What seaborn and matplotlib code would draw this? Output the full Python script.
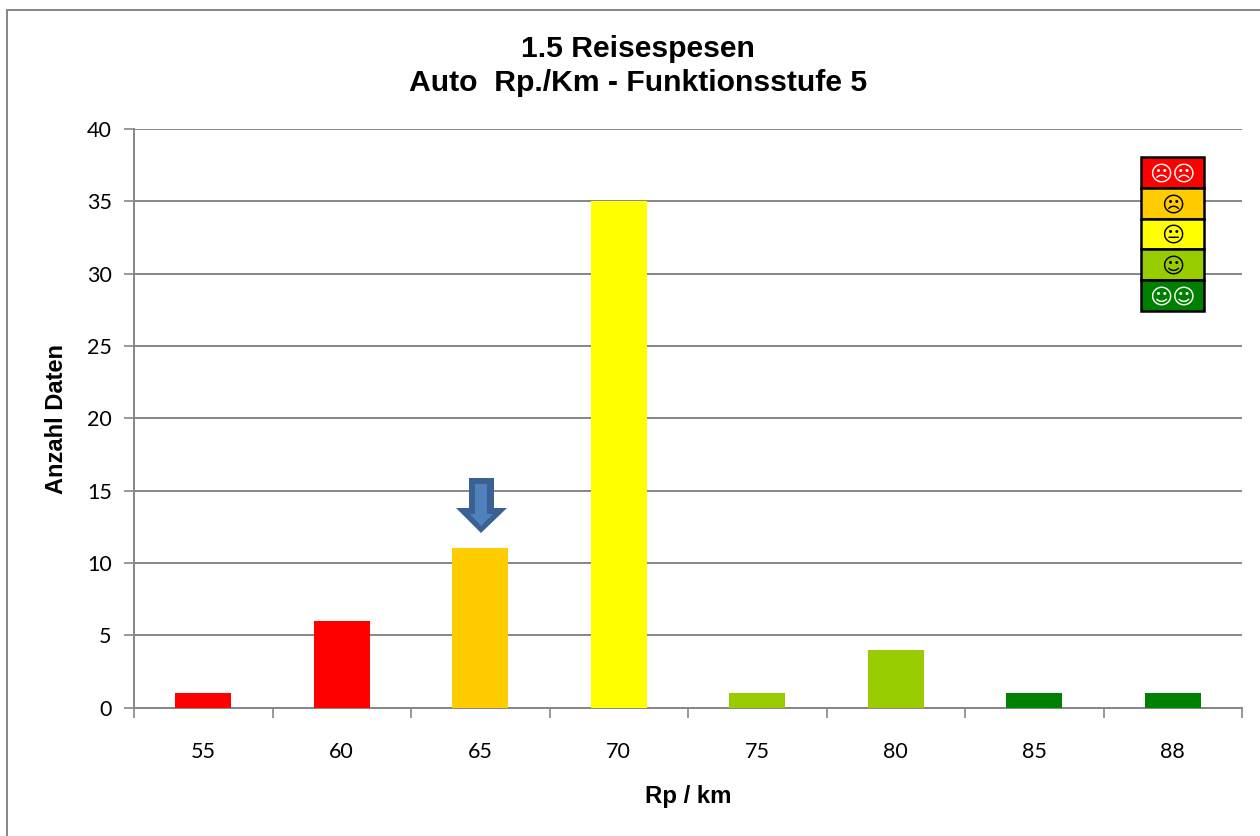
import matplotlib
matplotlib.use("Agg")
import matplotlib.pyplot as plt
import seaborn as sns
from matplotlib.patches import Rectangle, Polygon
from matplotlib.ticker import FixedLocator

W, H = 1260, 836

rp_labels = ["55", "60", "65", "70", "75", "80", "85", "88"]
anzahl = [1, 6, 11, 35, 1, 4, 1, 1]
bar_colors = ["#FF0000", "#FF0000", "#FFCC00", "#FFFF00", "#99CC00", "#99CC00", "#008000", "#008000"]
y_ticks = [0, 5, 10, 15, 20, 25, 30, 35, 40]

legend_colors = ["#FF0000", "#FFCC00", "#FFFF00", "#99CC00", "#008000"]
legend_faces = ["\u2639\u2639", "\u2639", "\U0001F610", "\u263A", "\u263A\u263A"]
legend_text_colors = ["white", "black", "black", "black", "white"]

GREY = "#868686"
sns.set_theme(style="white")
plt.rcParams["font.family"] = ["Lato", "DejaVu Sans"]


def fx(px):
    return px / W


def fy(py):
    return 1 - py / H


fig = plt.figure(figsize=(W / 100, H / 100), dpi=100, facecolor="white")

# outer chart frame, right and bottom run off the picture
fig.add_artist(Rectangle((fx(7), fy(860)), fx(1300), fy(10) - fy(860), transform=fig.transFigure,
                         fill=False, edgecolor=GREY, linewidth=1.4))

ax = fig.add_axes([fx(134), fy(707.5), fx(1242 - 134), fy(129) - fy(707.5)])
sns.barplot(x=rp_labels, y=anzahl, hue=rp_labels, palette=bar_colors, legend=False,
            width=0.405, saturation=1, linewidth=0, ax=ax, zorder=3)

ax.set_xlim(-0.5, 7.5)
ax.set_ylim(0, 40)
ax.set_yticks(y_ticks)
ax.grid(axis="y", color=GREY, linewidth=1.4, zorder=0)
ax.set_axisbelow(True)

for side in ["top", "right"]:
    ax.spines[side].set_visible(False)
for side in ["left", "bottom"]:
    ax.spines[side].set_color(GREY)
    ax.spines[side].set_linewidth(1.4)

ax.xaxis.set_minor_locator(FixedLocator([i - 0.5 for i in range(len(rp_labels) + 1)]))
ax.tick_params(axis="x", which="major", length=0, pad=25, labelsize=15.5, labelcolor="black")
ax.tick_params(axis="x", which="minor", bottom=True, length=7, width=1.2, color=GREY)
ax.tick_params(axis="y", which="major", left=True, length=7, width=1.2, color=GREY, pad=9,
               labelsize=15.5, labelcolor="black")

fig.text(fx(638), fy(49), "1.5 Reisespesen", ha="center", va="center", fontsize=21.7,
         fontweight="bold", family="Liberation Sans", color="black")
fig.text(fx(638), fy(83), "Auto  Rp./Km - Funktionsstufe 5", ha="center", va="center", fontsize=21.7,
         fontweight="bold", family="Liberation Sans", color="black")
fig.text(fx(688.5), fy(796), "Rp / km", ha="center", va="center", fontsize=17.3,
         fontweight="bold", family="Liberation Sans", color="black")
fig.text(fx(56.5), fy(419), "Anzahl Daten", ha="center", va="center", rotation=90, fontsize=17,
         fontweight="bold", family="Liberation Sans", color="black")

# smiley scale top right
row_h = (311 - 157) / len(legend_colors)
for i, (col, face, tcol) in enumerate(zip(legend_colors, legend_faces, legend_text_colors)):
    top = 157 + i * row_h
    fig.add_artist(Rectangle((fx(1141), fy(top + row_h)), fx(1204 - 1141), fy(top) - fy(top + row_h),
                             transform=fig.transFigure, facecolor=col, edgecolor="black",
                             linewidth=1.8, zorder=5))
    fig.text(fx(1172.5), fy(top + row_h / 2 + 2), face, ha="center", va="center", fontsize=16,
             color=tcol, family="DejaVu Sans", zorder=6)

# arrow above the 65 bar
outer = [(469, 478), (494, 478), (494, 508), (507, 508), (481, 533), (456, 508), (469, 508)]
inner = [(475, 484), (487, 484), (487, 514), (493, 514), (481, 526), (470, 514), (475, 514)]
fig.add_artist(Polygon([(fx(x), fy(y)) for x, y in outer], transform=fig.transFigure,
                       facecolor="#3B6093", edgecolor="none", zorder=5))
fig.add_artist(Polygon([(fx(x), fy(y)) for x, y in inner], transform=fig.transFigure,
                       facecolor="#4F81BD", edgecolor="none", zorder=6))

fig.savefig("out.png", dpi=100, facecolor="white")
plt.close(fig)
